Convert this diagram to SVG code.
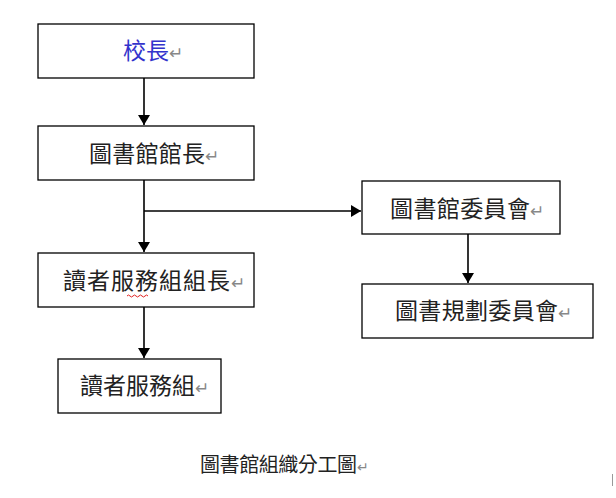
<svg xmlns="http://www.w3.org/2000/svg" width="616" height="498" viewBox="0 0 616 498">
<defs>
<marker id="ah" markerWidth="10" markerHeight="12" refX="10" refY="6" orient="auto" markerUnits="userSpaceOnUse">
<path d="M0,0 L10,6 L0,12 Z" fill="#000"/>
</marker>
<style>
.box{fill:#fff;stroke:#000;stroke-width:1.3}
.t{font-family:"Noto Sans CJK TC","Noto Sans CJK SC",sans-serif;font-size:23px;fill:#222}
.rt{font-size:17px;fill:#888}
.c{stroke:#000;stroke-width:1.6;fill:none}
</style>
</defs>
<rect width="616" height="498" fill="#fff"/>
<g id="connectors">
<line class="c" x1="144" y1="78" x2="144" y2="125" marker-end="url(#ah)"/>
<line class="c" x1="144" y1="180" x2="144" y2="252" marker-end="url(#ah)"/>
<line class="c" x1="144" y1="211" x2="361" y2="211" marker-end="url(#ah)"/>
<line class="c" x1="468" y1="234" x2="468" y2="283" marker-end="url(#ah)"/>
<line class="c" x1="144" y1="307" x2="144" y2="358" marker-end="url(#ah)"/>
</g>
<g id="principal">
<rect class="box" x="38" y="24" width="216" height="54"/>
<text class="t" x="123" y="59" style="fill:#3333cc"><tspan textLength="46">校長</tspan><tspan class="rt">↵</tspan></text>
</g>
<g id="director">
<rect class="box" x="38" y="126" width="216" height="54"/>
<text class="t" x="89" y="162"><tspan textLength="116">圖書館館長</tspan><tspan class="rt">↵</tspan></text>
</g>
<g id="reader-head">
<rect class="box" x="38" y="253" width="216" height="54"/>
<text class="t" x="63" y="289"><tspan textLength="167">讀者服務組組長</tspan><tspan class="rt">↵</tspan></text>
<path d="M127,296 q1.5,-2 3,0 t3,0 t3,0 t3,0 t3,0 t3,0 t3,0" fill="none" stroke="#e02020" stroke-width="1"/>
</g>
<g id="reader-group">
<rect class="box" x="58" y="359" width="163" height="54"/>
<text class="t" x="80" y="394"><tspan textLength="115">讀者服務組</tspan><tspan class="rt">↵</tspan></text>
</g>
<g id="library-committee">
<rect class="box" x="362" y="181" width="198" height="53"/>
<text class="t" x="390" y="217"><tspan textLength="140">圖書館委員會</tspan><tspan class="rt">↵</tspan></text>
</g>
<g id="planning-committee">
<rect class="box" x="362" y="284" width="231" height="54"/>
<text class="t" x="395" y="319"><tspan textLength="163">圖書規劃委員會</tspan><tspan class="rt">↵</tspan></text>
</g>
<g id="caption">
<text class="t" x="200" y="472" style="font-size:20px"><tspan textLength="157">圖書館組織分工圖</tspan><tspan class="rt" style="font-size:14px">↵</tspan></text>
<line x1="612.5" y1="474" x2="612.5" y2="486" stroke="#999" stroke-width="1"/>
</g>
</svg>
